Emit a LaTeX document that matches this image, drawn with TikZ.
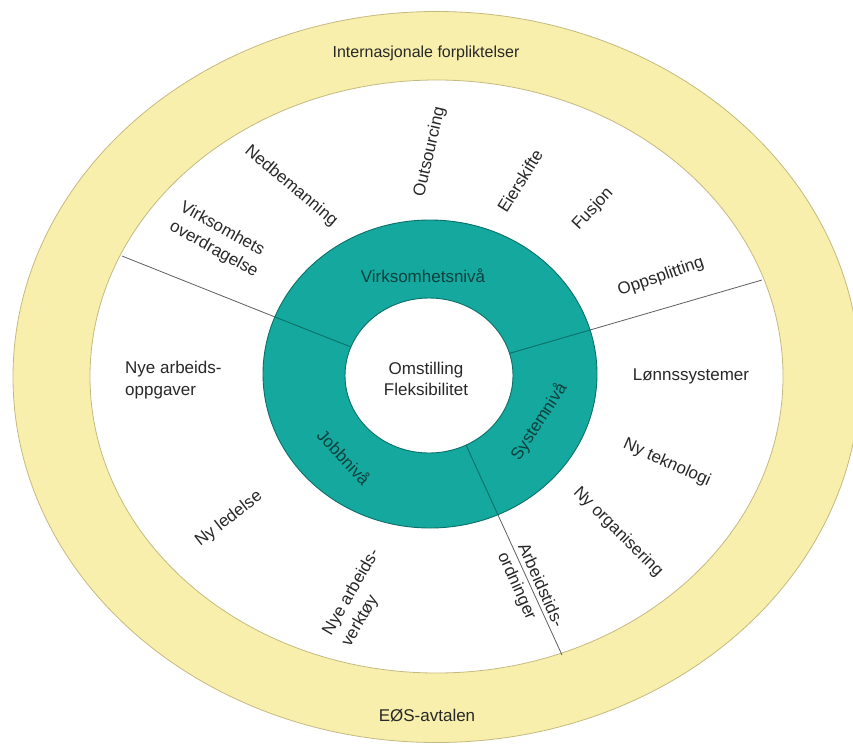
\documentclass[tikz,border=0pt]{standalone}
\usepackage{fontspec}
\setmainfont{Liberation Sans}
\definecolor{bandfill}{RGB}{248,239,172}
\definecolor{bandedge}{RGB}{196,186,128}
\definecolor{ringfill}{RGB}{20,168,158}
\definecolor{ringedge}{RGB}{12,112,106}
\definecolor{ringtext}{RGB}{14,64,60}
\definecolor{txtgray}{RGB}{40,40,40}
\definecolor{divider}{RGB}{95,95,95}
\begin{document}
\begin{tikzpicture}[x=1pt,y=-1pt,
  lbl/.style={font=\fontsize{17}{22}\selectfont, text=txtgray, inner sep=0pt},
  ringlbl/.style={lbl, text=ringtext},
  twoline/.style={lbl, align=left},
  divline/.style={draw=divider, line width=0.8pt},
  ringline/.style={draw=ringedge, line width=0.9pt}]
\useasboundingbox (0,0) rectangle (853,744);

% outer band: international obligations
\begin{scope}
  \clip (0,0) rectangle (853,744);
  \filldraw[fill=bandfill, draw=bandedge, line width=0.8pt]
    (436.5,377) ellipse [x radius=423.5pt, y radius=365.5pt];
\end{scope}
\filldraw[fill=white, draw=bandedge, line width=0.8pt]
  (436.5,376.5) ellipse [x radius=346.5pt, y radius=296.5pt];

% end points of the three sector dividers
\coordinate (d1o) at (122,256);
\coordinate (d1g) at (275,317);
\coordinate (d1i) at (351,347);
\coordinate (d2o) at (762,280);
\coordinate (d2g) at (590,330);
\coordinate (d2i) at (509,353.5);
\coordinate (d3o) at (562,655);
\coordinate (d3g) at (498,515);
\coordinate (d3i) at (466,445);

\draw[divline] (d1o) -- (d1g);
\draw[divline] (d2o) -- (d2g);
\draw[divline] (d3o) -- (d3g);

% level ring
\fill[ringfill, even odd rule]
  (430,374) ellipse [x radius=167pt, y radius=154pt]
  (429,375.5) ellipse [x radius=84pt, y radius=77.5pt];
\draw[ringline] (430,374) ellipse [x radius=167pt, y radius=154pt];
\draw[ringline] (429,375.5) ellipse [x radius=84pt, y radius=77.5pt];
\draw[ringline] (d1g) -- (d1i);
\draw[ringline] (d2g) -- (d2i);
\draw[ringline] (d3g) -- (d3i);

% band labels
\node[lbl, font=\fontsize{16}{20}\selectfont] (intl) at (426,53) {Internasjonale forpliktelser};
\node[lbl] (eos) at (427,716) {EØS-avtalen};

% centre
\node[lbl, align=center, font=\fontsize{17}{21}\selectfont] (core) at (426,379) {Omstilling\\Fleksibilitet};

% ring labels
\node[ringlbl] (lvl-org) at (423,276) {Virksomhetsnivå};
\node[ringlbl, rotate=57] (lvl-sys) at (539,422) {Systemnivå};
\node[ringlbl, rotate=-47] (lvl-job) at (344,457) {Jobbnivå};

% enterprise sector
\node[twoline, rotate=-29] (transfer) at (219,240) {Virksomhets\\overdragelse};
\node[lbl, rotate=-40] (downsize) at (291,186) {Nedbemanning};
\node[lbl, rotate=77] (outsrc) at (430,152) {Outsourcing};
\node[lbl, rotate=58] (owner) at (520,181) {Eierskifte};
\node[lbl, rotate=47] (merger) at (593,209) {Fusjon};
\node[lbl, rotate=19] (split) at (661,277) {Oppsplitting};

% system sector
\node[lbl] (wages) at (691,376) {Lønnssystemer};
\node[lbl, rotate=-24] (tech) at (667,463) {Ny teknologi};
\node[lbl, rotate=-45] (orgn) at (618,532) {Ny organisering};
\node[twoline, rotate=-66] (hours) at (530,590) {Arbeidstids-\\ordninger};

% job sector
\node[twoline, anchor=west] (tasks) at (125,380) {Nye arbeids-\\oppgaver};
\node[lbl, rotate=38] (mgmt) at (229,519) {Ny ledelse};
\node[twoline, rotate=60] (tools) at (361,598) {Nye arbeids-\\verktøy};
\end{tikzpicture}
\end{document}
